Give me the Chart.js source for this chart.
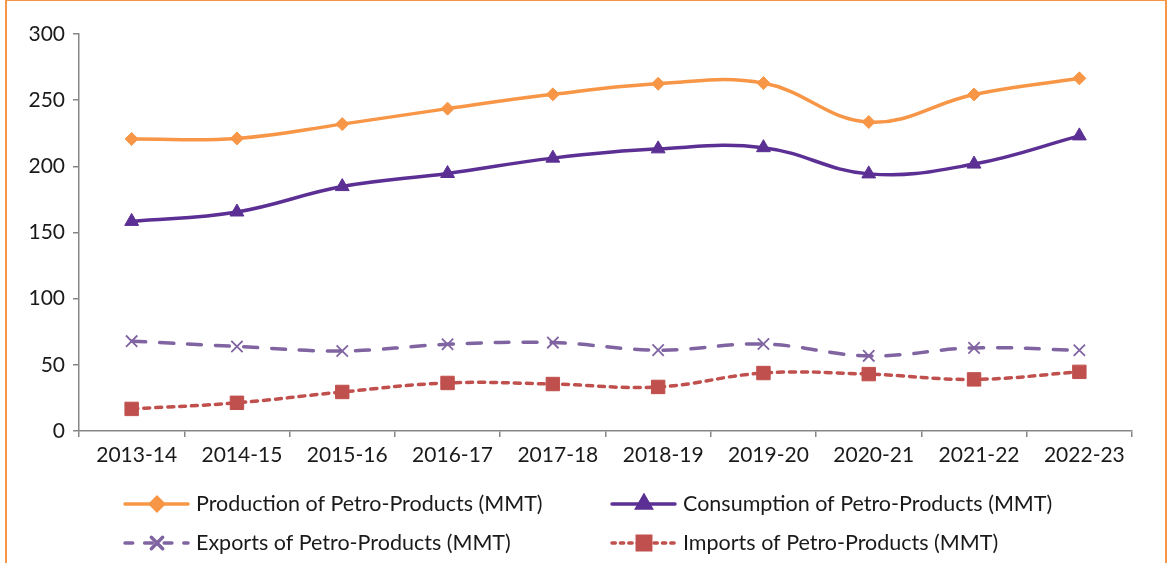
<!DOCTYPE html>
<html>
<head>
<meta charset="utf-8">
<script src="https://cdn.jsdelivr.net/npm/chart.js@4/dist/chart.umd.min.js"></script>
<style>
  html, body { margin: 0; padding: 0; background: #fff; }
  #frame { position: absolute; left: 5px; top: -1px; width: 1158px; height: 580px; border: 2px solid #F79646; }
  #wrap { position: absolute; left: 0; top: 0; width: 1169px; height: 563px; }
</style>
</head>
<body>
<div id="frame"></div>
<div id="wrap"><canvas id="chart"></canvas></div>
<script>
// values (MMT)
const years = ["2013-14", "2014-15", "2015-16", "2016-17", "2017-18", "2018-19", "2019-20", "2020-21", "2021-22", "2022-23"];
const production = [220.7, 221.1, 231.9, 243.6, 254.4, 262.4, 262.9, 233.5, 254.3, 266.5];
const consumption = [158.4, 165.5, 184.7, 194.6, 206.2, 213.2, 214.1, 194.3, 201.7, 223.0];
const exportsMMT = [67.9, 63.9, 60.5, 65.5, 66.8, 61.1, 65.7, 56.8, 62.8, 61.0];
const importsMMT = [16.7, 21.3, 29.5, 36.3, 35.5, 33.3, 43.8, 43.0, 39.0, 44.7];
const yTicks = [0, 50, 100, 150, 200, 250, 300];

const FONT = "Lato, 'Open Sans', sans-serif";
const AXIS = "#868686";
const TEXT = "#1a1a1a";

const series = [
  { label: "Production of Petro-Products (MMT)", data: production, color: "#F79646", point: "rectRot", r: 6.5, dash: [], col: 0, row: 0 },
  { label: "Consumption of Petro-Products (MMT)", data: consumption, color: "#5B2F93", point: "triangle", r: 8, dash: [], col: 1, row: 0 },
  { label: "Exports of Petro-Products (MMT)", data: exportsMMT, color: "#8064A2", point: "crossRot", r: 8, dash: [14, 14], col: 0, row: 1 },
  { label: "Imports of Petro-Products (MMT)", data: importsMMT, color: "#C0504D", point: "rect", r: 9.5, dash: [6, 6], col: 1, row: 1 },
];

// two-column legend under the plot, drawn on the canvas
const legendPlugin = {
  id: "gridLegend",
  afterDraw(chart) {
    const ctx = chart.ctx;
    const colX = [125, 612];
    const rowY = [504, 543];
    ctx.save();
    series.forEach((s) => {
      const x = colX[s.col], y = rowY[s.row];
      ctx.strokeStyle = s.color;
      ctx.lineWidth = 3.5;
      ctx.lineCap = "round";
      ctx.setLineDash(s.dash.length ? [s.dash[0] * 0.55, s.dash[1] * 0.85] : []);
      ctx.beginPath(); ctx.moveTo(x, y); ctx.lineTo(x + 63, y); ctx.stroke();
      ctx.setLineDash([]);
      Chart.helpers.drawPoint(ctx, {
        pointStyle: s.point, radius: s.r, borderWidth: s.point === "crossRot" ? 1.8 : 1,
      }, x + 32, y);
      ctx.fillStyle = s.color;
      if (s.point !== "crossRot") ctx.fill();
      ctx.fillStyle = TEXT;
      ctx.font = "21.5px " + FONT;
      ctx.textBaseline = "middle";
      ctx.fillText(s.label, x + 71, y);
    });
    ctx.restore();
  },
};

new Chart(document.getElementById("chart"), {
  type: "line",
  data: {
    labels: years,
    datasets: series.map((s) => ({
      label: s.label,
      data: s.data,
      borderColor: s.color,
      backgroundColor: s.color,
      borderWidth: 3.5,
      borderDash: s.dash,
      borderCapStyle: "round",
      tension: 0.4,
      pointStyle: s.point,
      pointRadius: s.r,
      pointBorderWidth: s.point === "crossRot" ? 1.8 : 1,
      pointBackgroundColor: s.color,
      pointBorderColor: s.color,
    })),
  },
  options: {
    responsive: true,
    maintainAspectRatio: false,
    animation: false,
    layout: { padding: { left: 0, top: 34, right: 37, bottom: 0 } },
    plugins: { legend: { display: false }, tooltip: { enabled: false } },
    scales: {
      x: {
        offset: true,
        grid: { display: true, offset: true, drawOnChartArea: false, drawTicks: true, tickLength: 6, color: AXIS, lineWidth: 1.5 },
        border: { display: true, color: AXIS, width: 1.5 },
        ticks: { color: TEXT, font: { family: FONT, size: 21 }, padding: 6, maxRotation: 0, labelOffset: 5 },
        afterFit: (scale) => { scale.height = 132; },
      },
      y: {
        min: 0, max: 300,
        afterBuildTicks: (scale) => { scale.ticks = yTicks.map((v) => ({ value: v })); },
        grid: { display: true, drawOnChartArea: false, drawTicks: true, tickLength: 6, color: AXIS, lineWidth: 1.5 },
        border: { display: true, color: AXIS, width: 1.5 },
        ticks: { color: TEXT, font: { family: FONT, size: 21 }, padding: 8 },
        afterFit: (scale) => { scale.width = 79; },
      },
    },
  },
  plugins: [legendPlugin],
});
</script>
</body>
</html>
